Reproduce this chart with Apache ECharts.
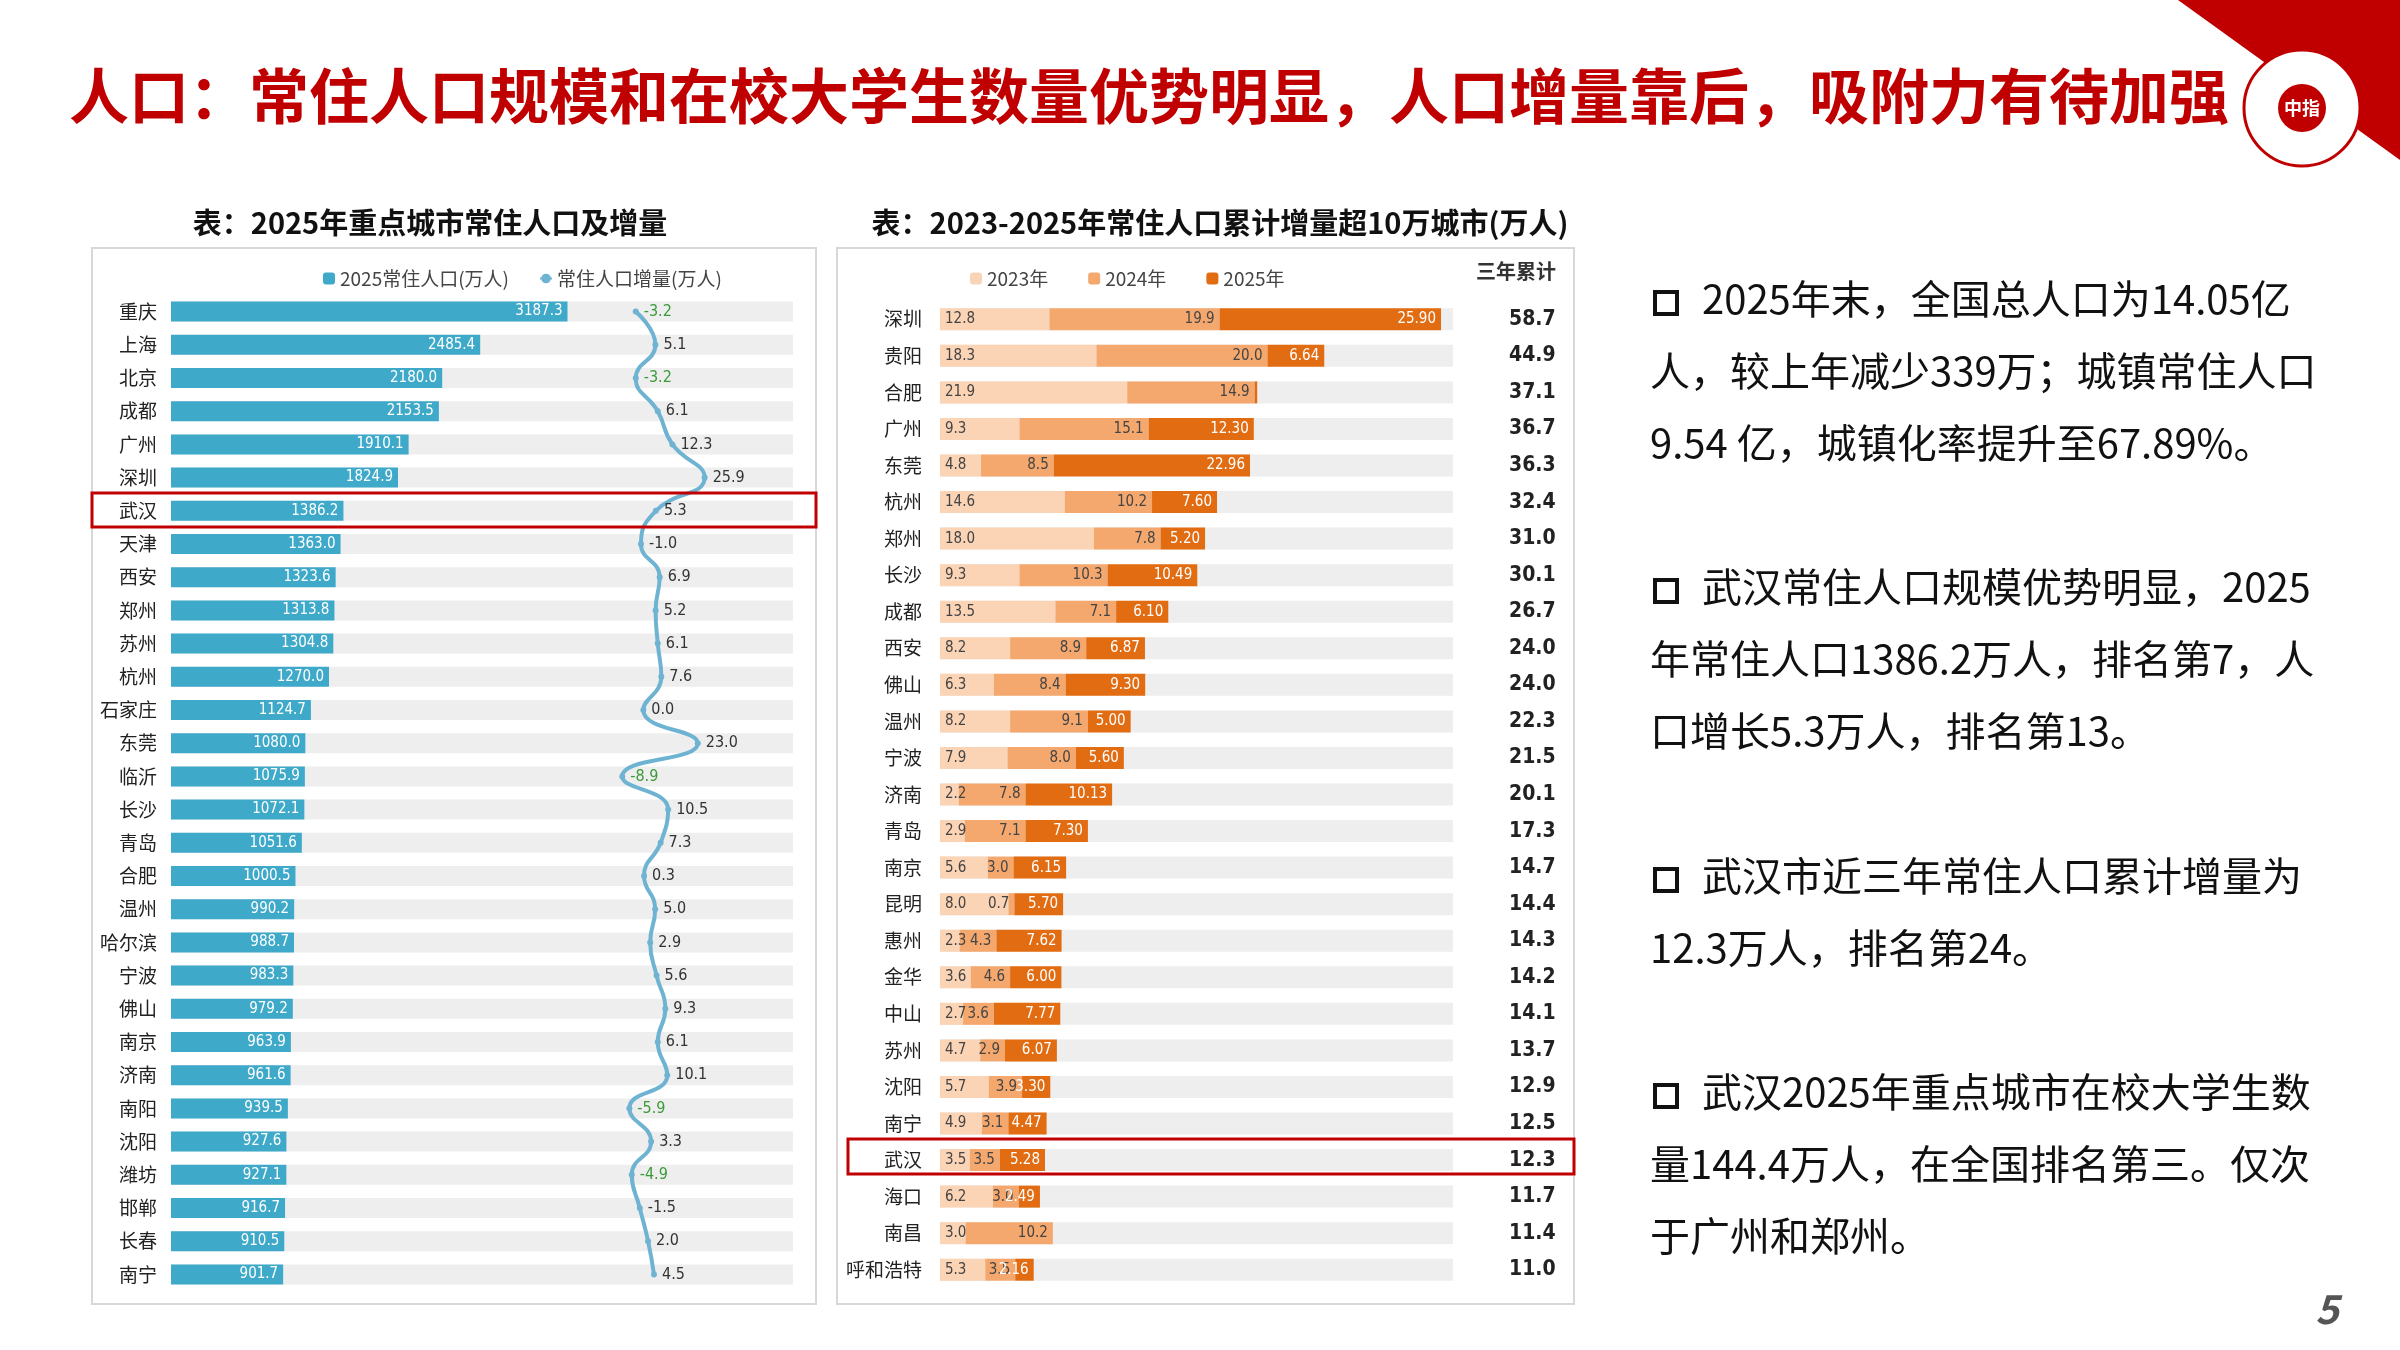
<!DOCTYPE html>
<html><head><meta charset="utf-8">
<script src="https://cdn.jsdelivr.net/npm/echarts@6/dist/echarts.min.js"></script>
<style>html,body{margin:0;background:#fff}#c{width:2400px;height:1350px}</style>
</head><body><div id="c"></div>
<script>
const leftCities=['重庆','上海','北京','成都','广州','深圳','武汉','天津','西安','郑州','苏州','杭州','石家庄','东莞','临沂','长沙','青岛','合肥','温州','哈尔滨','宁波','佛山','南京','济南','南阳','沈阳','潍坊','邯郸','长春','南宁'];
const pop2025=[3187.3,2485.4,2180.0,2153.5,1910.1,1824.9,1386.2,1363.0,1323.6,1313.8,1304.8,1270.0,1124.7,1080.0,1075.9,1072.1,1051.6,1000.5,990.2,988.7,983.3,979.2,963.9,961.6,939.5,927.6,927.1,916.7,910.5,901.7];
const popInc=[-3.2,5.1,-3.2,6.1,12.3,25.9,5.3,-1.0,6.9,5.2,6.1,7.6,0.0,23.0,-8.9,10.5,7.3,0.3,5.0,2.9,5.6,9.3,6.1,10.1,-5.9,3.3,-4.9,-1.5,2.0,4.5];
const rightCities=['深圳','贵阳','合肥','广州','东莞','杭州','郑州','长沙','成都','西安','佛山','温州','宁波','济南','青岛','南京','昆明','惠州','金华','中山','苏州','沈阳','南宁','武汉','海口','南昌','呼和浩特'];
const inc2023=[12.8,18.3,21.9,9.3,4.8,14.6,18.0,9.3,13.5,8.2,6.3,8.2,7.9,2.2,2.9,5.6,8.0,2.3,3.6,2.7,4.7,5.7,4.9,3.5,6.2,3.0,5.3];
const inc2024=[19.9,20.0,14.9,15.1,8.5,10.2,7.8,10.3,7.1,8.9,8.4,9.1,8.0,7.8,7.1,3.0,0.7,4.3,4.6,3.6,2.9,3.9,3.1,3.5,3.0,10.2,3.5];
const inc2025=[25.90,6.64,0.3,12.30,22.96,7.60,5.20,10.49,6.10,6.87,9.30,5.00,5.60,10.13,7.30,6.15,5.70,7.62,6.00,7.77,6.07,3.3,4.47,5.28,2.49,-1.8,2.16];
const total3=['58.7','44.9','37.1','36.7','36.3','32.4','31.0','30.1','26.7','24.0','24.0','22.3','21.5','20.1','17.3','14.7','14.4','14.3','14.2','14.1','13.7','12.9','12.5','12.3','11.7','11.4','11.0'];
const paragraphs=[
 ['2025年末，全国总人口为14.05亿','人，较上年减少339万；城镇常住人口','9.54 亿，城镇化率提升至67.89%。'],
 ['武汉常住人口规模优势明显，2025','年常住人口1386.2万人，排名第7，人','口增长5.3万人，排名第13。'],
 ['武汉市近三年常住人口累计增量为','12.3万人，排名第24。'],
 ['武汉2025年重点城市在校大学生数','量144.4万人，在全国排名第三。仅次','于广州和郑州。']];
const paraTop=[303,591,880,1096];

const F='"Noto Sans CJK SC","Noto Sans",sans-serif';
const N='"DejaVu Sans Condensed",sans-serif';
const chart=echarts.init(document.getElementById('c'));
const g=[];
g.push({type:'text',left:69,top:66,style:{text:'人口：常住人口规模和在校大学生数量优势明显，人口增量靠后，吸附力有待加强',font:'bold 60px '+F,fill:'#c00000'}});
g.push({type:'polygon',shape:{points:[[2178,0],[2400,0],[2400,160]]},style:{fill:'#c00000'}});
g.push({type:'circle',shape:{cx:2302,cy:108,r:58},style:{fill:'#fff',stroke:'#c00000',lineWidth:3}});
g.push({type:'circle',shape:{cx:2302,cy:108,r:24},style:{fill:'#c00000'}});
g.push({type:'text',x:2302,y:108,style:{text:'中指',font:'bold 18px '+F,fill:'#fff',align:'center',verticalAlign:'middle'}});
g.push({type:'rect',shape:{x:92,y:248,width:724,height:1056},style:{fill:'none',stroke:'#d8d8d8',lineWidth:2}});
g.push({type:'rect',shape:{x:837,y:248,width:737,height:1056},style:{fill:'none',stroke:'#d8d8d8',lineWidth:2}});
g.push({type:'text',x:430,y:223,style:{text:'表：2025年重点城市常住人口及增量',font:'bold 29px '+F,fill:'#111',align:'center',verticalAlign:'middle'}});
g.push({type:'text',x:1220,y:223,style:{text:'表：2023-2025年常住人口累计增量超10万城市(万人)',font:'bold 29px '+F,fill:'#111',align:'center',verticalAlign:'middle'}});
g.push({type:'text',x:1516,y:271,style:{text:'三年累计',font:'bold 20px '+F,fill:'#333',align:'center',verticalAlign:'middle'}});
g.push({type:'rect',z:100,shape:{x:92,y:493,width:724,height:34},style:{fill:'none',stroke:'#c00000',lineWidth:3}});
g.push({type:'rect',z:100,shape:{x:848,y:1139,width:726,height:35},style:{fill:'none',stroke:'#c00000',lineWidth:3}});
paragraphs.forEach((p,i)=>p.forEach((l,j)=>{
  if(j===0) g.push({type:'rect',shape:{x:1655,y:paraTop[i]-11,width:22,height:22},style:{fill:'none',stroke:'#111',lineWidth:4}});
  g.push({type:'text',left:j===0?1702:1650,top:paraTop[i]+j*72-24,style:{text:l,font:'40px '+F,fill:'#111'}});
}));
g.push({type:'text',x:2327,y:1309,style:{text:'5',font:'italic bold 40px '+F,fill:'#555',align:'center',verticalAlign:'middle'}});

chart.setOption({
 graphic:g,
 legend:[{left:318,top:264,itemWidth:12,itemHeight:12,itemGap:30,textStyle:{fontSize:19,color:'#444',fontFamily:F},data:['2025常住人口(万人)','常住人口增量(万人)']},
  {left:965,top:264,itemWidth:12,itemHeight:12,itemGap:40,textStyle:{fontSize:19,color:'#444',fontFamily:F},data:['2023年','2024年','2025年']}],
 grid:[{left:171,top:295,width:622,height:996},{left:596,top:295,width:142,height:996},{left:940,top:301,width:513,height:987}],
 xAxis:[{gridIndex:0,type:'value',min:0,max:5000,show:false},{gridIndex:1,type:'value',min:-20,max:40,show:false},{gridIndex:2,type:'value',min:0,max:60,show:false}],
 yAxis:[{gridIndex:0,type:'category',inverse:true,data:leftCities,axisLine:{show:false},axisTick:{show:false},axisLabel:{fontSize:19,color:'#222',fontFamily:F,margin:14}},
  {gridIndex:1,type:'category',inverse:true,data:leftCities,show:false,boundaryGap:true},
  {gridIndex:2,type:'category',inverse:true,data:rightCities,axisLine:{show:false},axisTick:{show:false},axisLabel:{fontSize:19,color:'#222',fontFamily:F,margin:18}},
  {gridIndex:2,type:'category',inverse:true,position:'right',data:total3,axisLine:{show:false},axisTick:{show:false},axisLabel:{fontSize:21,fontWeight:'bold',color:'#222',fontFamily:N,margin:56}}],
 series:[
  {name:'2025常住人口(万人)',type:'bar',xAxisIndex:0,yAxisIndex:0,data:pop2025,barWidth:20,itemStyle:{color:'#3fa9c9'},showBackground:true,backgroundStyle:{color:'#eeeeee'},
   label:{show:true,position:'insideRight',color:'#fff',fontSize:15,fontFamily:N,formatter:p=>p.value.toFixed(1)}},
  {name:'常住人口增量(万人)',type:'line',xAxisIndex:1,yAxisIndex:1,smooth:true,symbol:'circle',symbolSize:6,
   data:popInc.map((v,i)=>({value:[v,leftCities[i]],label:{color:v<=-3?'#3a9a3a':'#333'}})),
   itemStyle:{color:'#6fb3d2'},lineStyle:{color:'#6fb3d2',width:4},
   label:{show:true,position:'right',fontSize:16,fontFamily:N,formatter:p=>p.value[0].toFixed(1)}},
  {name:'2023年',type:'bar',stack:'s',xAxisIndex:2,yAxisIndex:2,data:inc2023,barWidth:22,itemStyle:{color:'#fbd3b5'},showBackground:true,backgroundStyle:{color:'#eeeeee'},
   label:{show:true,position:'insideLeft',color:'#444',fontSize:15,fontFamily:N,formatter:p=>p.value.toFixed(1)}},
  {name:'2024年',type:'bar',stack:'s',xAxisIndex:2,yAxisIndex:2,data:inc2024,itemStyle:{color:'#f5a86e'},
   label:{show:true,position:'insideRight',color:'#444',fontSize:15,fontFamily:N,formatter:p=>p.value.toFixed(1)}},
  {name:'2025年',type:'bar',stack:'s',xAxisIndex:2,yAxisIndex:2,data:inc2025,itemStyle:{color:'#e26c12'},
   label:{show:true,position:'insideRight',color:'#fff',fontSize:15,fontFamily:N,formatter:p=>p.value>=2?p.value.toFixed(2):''}}
 ]
});
</script></body></html>
